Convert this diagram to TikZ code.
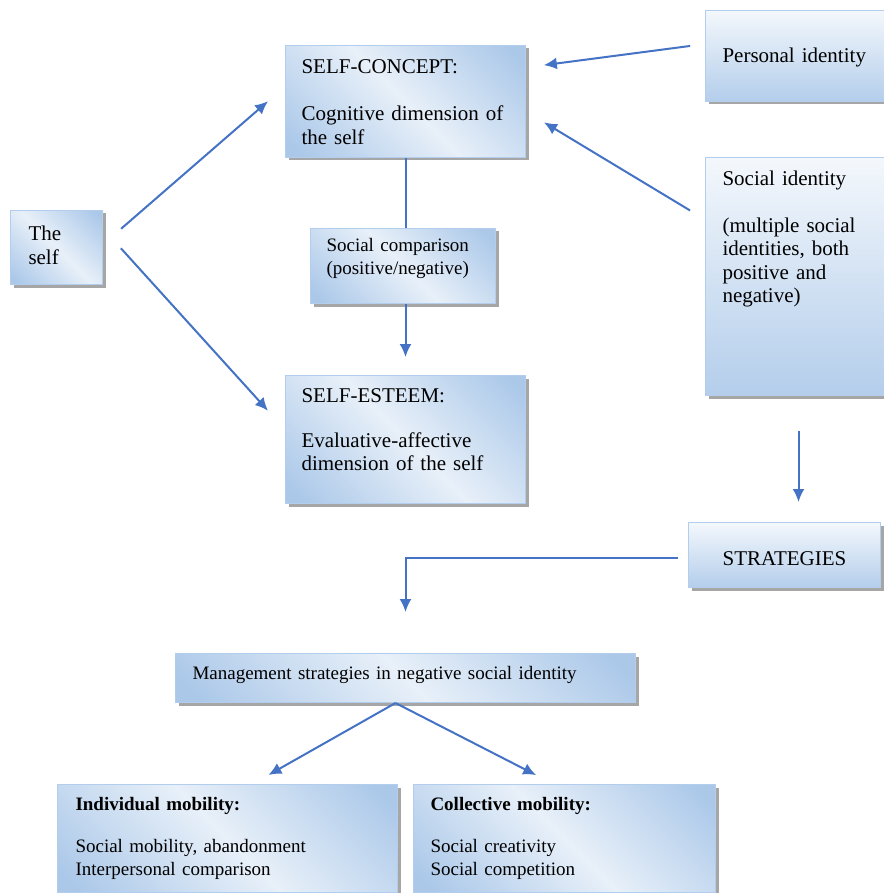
\documentclass[tikz,border=0pt]{standalone}
\usepackage{fontspec}
\setmainfont{Liberation Serif}
\usepackage{xcolor}
\usepackage{tikz}
\usetikzlibrary{arrows.meta,shadows}
\definecolor{boxblue}{HTML}{ABC8E9}
\definecolor{boxlight}{HTML}{E8F0F9}
\definecolor{boxedge}{HTML}{B3CEEC}
\definecolor{arrowblue}{HTML}{4472C4}
\pgfdeclarehorizontalshading{glow}{100bp}{color(0bp)=(boxblue); color(18bp)=(boxblue);
    color(50bp)=(boxlight); color(82bp)=(boxblue); color(100bp)=(boxblue)}
\tikzstyle{block} = [rectangle, draw=boxedge, line width=1pt, shading=glow, shading angle=45,
    drop shadow={shadow xshift=3pt, shadow yshift=-3pt, fill=black!35, opacity=1},
    anchor=north west, align=left, inner xsep=16pt, inner ysep=0pt,
    font=\fontsize{21}{23.5}\selectfont]
\tikzstyle{smallblock} = [block, font=\fontsize{19}{23}\selectfont]
\tikzstyle{sideblock} = [block, top color=boxlight!50!white, bottom color=boxblue!90!white]
\tikzstyle{arrow} = [draw=arrowblue, -{Latex[length=13pt,width=12pt]}, line width=2pt]
\tikzstyle{line} = [draw=arrowblue, line width=2pt]

\begin{document}
\begin{tikzpicture}[x=1pt, y=-1pt]
  \useasboundingbox (0,0) rectangle (883,893);
  % Place nodes
  \node [block, inner xsep=18pt, text width=56pt, text height=30pt, text depth=44pt] (self) at (10,210) {The\\self};
  \node [block, text width=208pt, text height=28pt, text depth=84pt] (concept) at (285,45) {SELF-CONCEPT:\\[24pt]Cognitive dimension of\\the self};
  \node [smallblock, text width=153pt, text height=23pt, text depth=52pt] (comparison) at (310,228) {Social comparison\\(positive/negative)};
  \node [block, text width=208pt, text height=27pt, text depth=101pt] (esteem) at (285,375) {SELF-ESTEEM:\\[21pt]Evaluative-affective\\dimension of the self};

  \node [sideblock, inner xsep=17pt, text width=152pt, text height=52pt, text depth=39pt] (personal) at (705,10) {Personal identity};
  \node [sideblock, inner xsep=17pt, text width=152pt, text height=28pt, text depth=210pt] (socialid) at (705,157) {Social identity\\[23.5pt](multiple social\\identities, both\\positive and\\negative)};
  \node [sideblock, align=center, text width=160pt, text height=43pt, text depth=22pt] (strategies) at (688,522) {STRATEGIES};

  \node [smallblock, inner xsep=17pt, text width=426pt, text height=26pt, text depth=23pt] (management) at (175,653) {Management strategies in negative social identity};
  \node [smallblock, inner xsep=18pt, text width=304pt, text height=26pt, text depth=82pt] (individual) at (57,784) {\textbf{Individual mobility:}\\[19pt]Social mobility, abandonment\\Interpersonal comparison};
  \node [smallblock, inner xsep=17pt, text width=268pt, text height=26pt, text depth=82pt] (collective) at (413,784) {\textbf{Collective mobility:}\\[19pt]Social creativity\\Social competition};

  % Connectors
  \path [arrow, shorten <=24pt, shorten >=22.5pt] ([yshift=3pt]self.east) -- ([yshift=15pt]concept.west);
  \path [arrow, shorten <=26.7pt, shorten >=25.3pt] ([yshift=19pt]self.east) -- ([yshift=10pt]esteem.west);
  \path [arrow, shorten <=15pt, shorten >=18pt] ([yshift=12pt]personal.west) -- ([yshift=34pt]concept.east);
  \path [arrow, shorten <=17.5pt, shorten >=21pt] ([yshift=57pt]socialid.west) -- ([yshift=-10pt]concept.east);
  \path [line] (concept.south) -- (concept.south |- comparison.north);
  \path [arrow, shorten >=18pt] (concept.south |- comparison.south) -- (concept.south |- esteem.north);
  \path [arrow, shorten <=35pt, shorten >=20pt] (socialid.south) -- (strategies.north -| socialid.south);
  \path [arrow, shorten <=10pt, shorten >=41pt] ([yshift=-3pt]strategies.west) -| (management.north);
  \path [arrow, shorten >=18.3pt] ([xshift=-10pt]management.south) -- ([xshift=25pt]individual.north);
  \path [arrow, shorten >=19.5pt] ([xshift=-10pt]management.south) -- ([xshift=-11pt]collective.north);
\end{tikzpicture}
\end{document}
